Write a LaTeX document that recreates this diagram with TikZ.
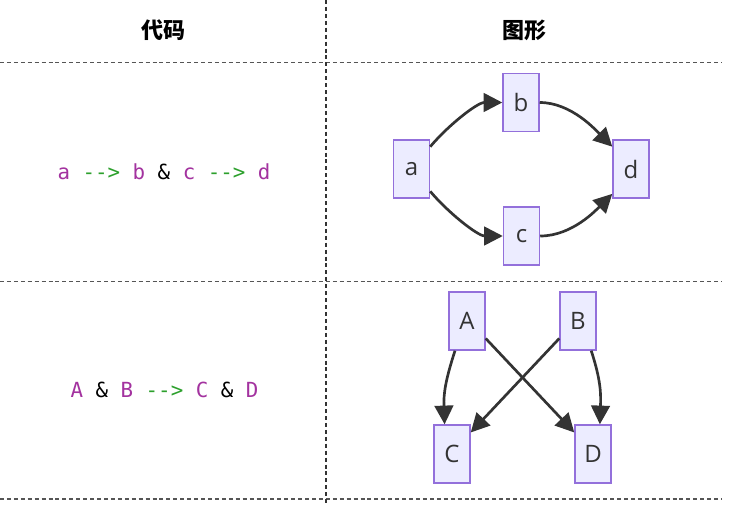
\documentclass[tikz,border=0pt]{standalone}
\usepackage{fontspec}
\setmainfont{Open Sans}
\newfontfamily\cjk{Noto Sans CJK SC}
\newfontfamily\codefont{DejaVu Sans Mono}
\usetikzlibrary{arrows.meta}
\definecolor{nodefill}{HTML}{ECECFF}
\definecolor{nodeline}{HTML}{9370DB}
\definecolor{edgec}{HTML}{333333}
\definecolor{kw}{HTML}{A3329F}
\definecolor{op}{HTML}{2CA02C}
\definecolor{rulec}{HTML}{555555}
\begin{document}
\begin{tikzpicture}[x=0.75pt,y=0.75pt,
 box/.style={draw=nodeline,fill=nodefill,line width=1.1pt,minimum width=27pt,minimum height=43.5pt,inner sep=0pt,font=\fontsize{18}{20}\selectfont,text=edgec},
 link/.style={draw=edgec,line width=2pt,-{Triangle[length=14pt,width=14pt]}},
 gridline/.style={draw=rulec,line width=0.8pt,dash pattern=on 3pt off 2.2pt},
 head/.style={font=\cjk\bfseries\fontsize{16.5}{18}\selectfont},
 code/.style={font=\codefont\fontsize{15.6}{18}\selectfont}]
\useasboundingbox (0,0) rectangle (732,-508);
\fill[white] (0,0) rectangle (732,-508);
% table rules
\draw[gridline] (0,-62.5) -- (722,-62.5);
\draw[gridline] (0,-281.5) -- (722,-281.5);
\draw[gridline] (0,-499) -- (722,-499);
\draw[gridline,draw=edgec] (326,0) -- (326,-505);
% headers
\node[head] (h1) at (163,-30) {代码};
\node[head] (h2) at (524,-30) {图形};
% code
\node[code] (code1) at (164,-172) {\textcolor{kw}{a} \textcolor{op}{-{}-{}>} \textcolor{kw}{b} \& \textcolor{kw}{c} \textcolor{op}{-{}-{}>} \textcolor{kw}{d}};
\node[code] (code2) at (164.5,-390) {\textcolor{kw}{A} \& \textcolor{kw}{B} \textcolor{op}{-{}-{}>} \textcolor{kw}{C} \& \textcolor{kw}{D}};
% graph 1
\node[box] (a) at (411.5,-169) {a};
\node[box] (b) at (521,-102.5) {b};
\node[box] (c) at (521.5,-236) {c};
\node[box] (d) at (631,-169) {d};
\draw[link] (a.50) .. controls +(50:28) and +(180:25) .. (b.west);
\draw[link] (a.-50) .. controls +(-50:28) and +(180:25) .. (c.west);
\draw[link] (b.east) .. controls +(0:32) and +(135:22) .. (d.130);
\draw[link] (c.east) .. controls +(0:32) and +(-135:22) .. (d.-127);
% graph 2
\node[box] (A) at (467,-321) {A};
\node[box] (B) at (578,-321) {B};
\node[box] (C) at (452,-454) {C};
\node[box] (D) at (593,-454) {D};
\draw[link] (A.-112) .. controls +(-108:32) and +(92:30) .. (C.104);
\draw[link] (B.-66) .. controls +(-72:32) and +(88:30) .. (D.77);
\draw[link] (A.-43) -- (D.131);
\draw[link] (B.-137) -- (C.49);
\end{tikzpicture}
\end{document}
